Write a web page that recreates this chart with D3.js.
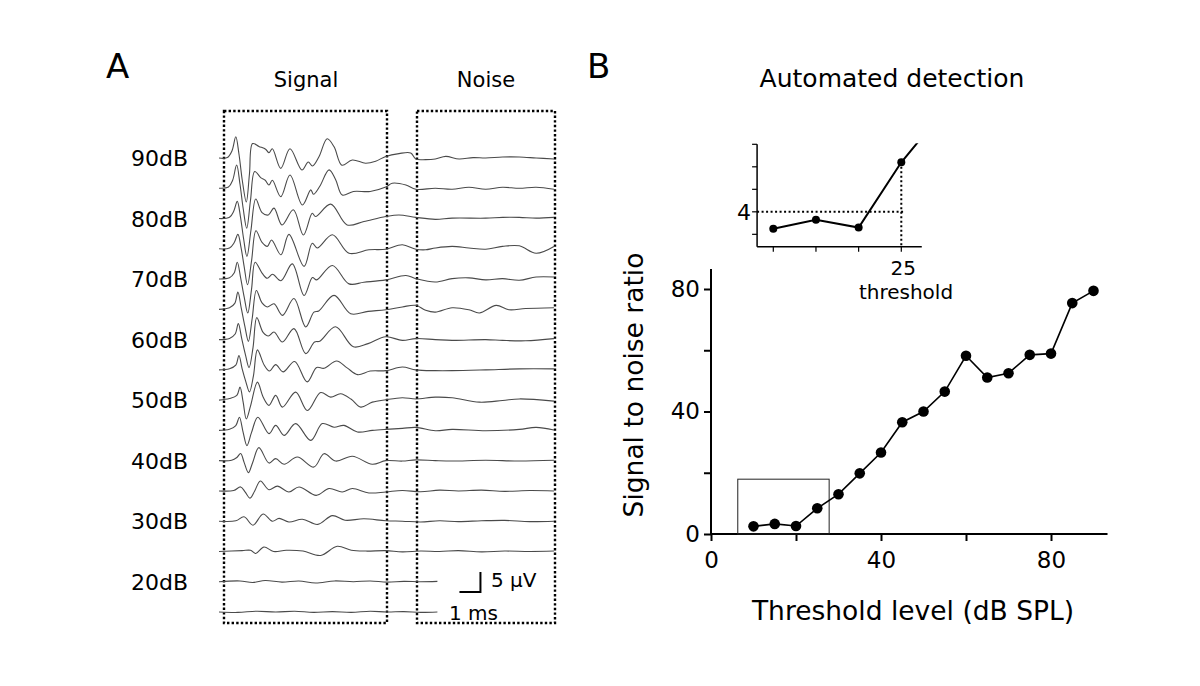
<!DOCTYPE html>
<html><head><meta charset="utf-8">
<script src="https://cdn.jsdelivr.net/npm/d3@7"></script>
<style>
html,body{margin:0;padding:0;background:#fff;}
svg{display:block;font-family:"DejaVu Sans",Verdana,sans-serif;}
</style></head>
<body>
<svg id="chart" width="1200" height="686"></svg>
<script>
// ---------- Panel A data: ABR traces, [time ms, amplitude µV] ----------
const traceLevels = [90,85,80,75,70,65,60,55,50,45,40,35,30,25,20,15];
const labelLevels = ["90dB","80dB","70dB","60dB","50dB","40dB","30dB","20dB"];
const wave90 = [[0,0],[0.4,0.1],[0.62,1.8],[0.8,5.3],[0.95,1],[1.12,-6],[1.3,-11],[1.45,-4],[1.6,3.6],[1.9,2.9],[2.22,2.2],[2.38,1.3],[2.54,2.3],[2.94,-2.6],[3.38,2.3],[3.95,-3],[4.25,-1],[4.45,-2],[4.76,0.3],[5.15,4.8],[5.48,2.8],[5.85,-1.8],[6.35,-0.5],[6.98,-1.3],[7.46,-0.8],[7.94,0.4],[8.57,1.1],[9.13,1.25],[9.37,-0.25],[9.84,-0.4],[10.3,-0.25],[10.8,0.4],[11.43,-0.25],[12.1,0.1],[12.7,0],[13.5,0.25],[14.3,0.25],[15.1,0],[15.95,-0.25]];
const wave85 = [[0,0],[0.45,0.3],[0.65,2],[0.84,5.8],[1.0,1],[1.15,-5],[1.32,-10],[1.5,-3],[1.7,4.2],[2.0,2.6],[2.2,2.0],[2.38,0.8],[2.54,2],[2.94,-2.1],[3.38,3.3],[3.97,-4.2],[4.37,-0.4],[4.5,-1.5],[4.8,0.5],[5.24,4.6],[5.55,2.2],[5.87,-1.7],[6.4,-0.8],[7.2,-0.8],[7.94,0.3],[8.25,1.25],[8.9,0.8],[9.37,-0.25],[10.3,0],[11.1,-0.25],[11.9,0.25],[12.7,-0.25],[13.5,0.25],[14.3,0],[15.1,0.25],[15.95,-0.25]];
const wave80 = [[0,0],[0.5,0.3],[0.7,1.8],[0.87,4.3],[1.02,0.5],[1.17,-5],[1.33,-9.5],[1.52,-3],[1.75,4.9],[2.05,1.5],[2.35,0.9],[2.62,2.6],[3.0,-1.6],[3.54,2.2],[4.02,-4.1],[4.44,1.3],[4.6,0.5],[5.32,3.6],[6.1,-1.6],[6.9,-0.75],[7.94,0.5],[8.57,0.9],[9.37,0.3],[10.3,-0.2],[11.1,0.1],[12.7,0.1],[13.5,0.3],[14.3,0.3],[15.1,0.1],[15.95,0.3]];
const wave75 = [[0,0],[0.5,0.2],[0.72,1.5],[0.9,3.6],[1.05,0.3],[1.2,-4.5],[1.36,-9],[1.55,-3],[1.76,4.5],[2.05,1.6],[2.3,0.6],[2.5,2.2],[2.95,-1.5],[3.33,3.6],[4.05,-4.4],[4.44,1.4],[4.68,0.2],[5.4,3.5],[6.19,-1.1],[7.14,-0.25],[7.94,-0.1],[8.73,1.0],[9.37,-0.1],[9.84,-0.25],[10.3,0.2],[11.1,0.6],[11.9,0.2],[12.7,-0.1],[13.5,0.6],[14.3,0.75],[15.1,-1.1],[15.95,0.6]];
const wave70 = [[0,0],[0.5,0.3],[0.72,1.5],[0.87,4.2],[1.03,0.3],[1.2,-4.5],[1.37,-8.5],[1.55,-2.5],[1.72,4.2],[2.05,1.5],[2.3,0.2],[2.55,1.2],[2.95,-0.4],[3.49,3.8],[4.05,-4.1],[4.45,0.4],[4.65,-0.2],[5.4,3.4],[6.19,-1.2],[6.9,-0.8],[7.94,-0.2],[8.9,0.9],[9.37,0.1],[10.3,-0.75],[11.1,0.1],[11.9,0.3],[12.7,-0.2],[13.5,0.1],[14.3,-0.3],[15.1,0.5],[15.95,0.5]];
const wave65 = [[0,0],[0.5,0.4],[0.75,1.5],[0.9,4.3],[1.06,0.3],[1.23,-4.2],[1.4,-8],[1.58,-2.3],[1.78,4.7],[2.05,1.6],[2.3,0.6],[2.62,1.4],[3.02,-1.5],[3.57,2.7],[4.13,-4.4],[4.52,-0.7],[4.75,-0.4],[5.48,3.5],[6.27,-1.1],[7.1,-0.5],[7.94,-0.1],[8.73,0.6],[9.37,1.0],[9.84,-0.25],[10.3,-0.7],[11.1,0.4],[11.9,-0.1],[12.4,-0.9],[13.2,1.0],[13.8,-0.1],[14.6,0.2],[15.95,0.4]];
const wave60 = [[0,0],[0.5,0.3],[0.77,1.4],[0.92,4.0],[1.08,0.3],[1.26,-3.8],[1.43,-7],[1.62,-2],[1.8,5.5],[2.1,1.8],[2.35,0.9],[2.62,1.9],[3.02,-0.6],[3.57,2.75],[4.13,-3.5],[4.55,-0.6],[4.8,-0.4],[5.55,3.2],[6.4,-1.8],[7.1,-1.0],[7.94,0.7],[8.73,-0.2],[9.37,0.25],[10.3,0],[11.1,-0.2],[12.7,0],[13.5,-0.2],[14.6,-0.3],[15.95,0.25]];
const wave55 = [[0,0],[0.5,0.3],[0.8,1.2],[0.95,3.6],[1.1,0.3],[1.28,-3],[1.45,-5.5],[1.64,-1.5],[1.83,5.0],[2.15,1.2],[2.4,-0.3],[2.7,1.3],[3.05,-0.5],[3.6,2.1],[4.2,-3.0],[4.65,0.6],[5.0,0.4],[5.6,2.2],[6.1,0.5],[6.6,-1.2],[7.2,-0.3],[7.94,-0.2],[8.73,0.7],[9.37,0],[10.3,-0.2],[11.1,-0.2],[12.7,0],[14.3,0.25],[15.95,0.25]];
const wave50 = [[0,0],[0.5,0.4],[0.85,1.2],[1.0,3.25],[1.15,-0.5],[1.3,-4.7],[1.5,-1.5],[1.83,4.5],[2.1,0.8],[2.38,-1.3],[2.7,1.2],[3.02,-1.75],[3.65,2.0],[4.21,-2.6],[4.84,1.9],[5.32,0.75],[5.79,1.6],[6.3,0.2],[6.75,-1.75],[7.3,-0.5],[7.94,0.1],[8.73,0.6],[9.37,0.3],[10.3,0.75],[11.1,0.6],[12.4,-0.5],[13.5,-0.1],[14.3,0.3],[15.95,-0.25]];
const wave45 = [[0,0],[0.5,0.3],[0.8,1.2],[0.97,3.3],[1.15,-0.5],[1.33,-3.8],[1.55,-0.5],[1.85,3.3],[2.38,-0.8],[2.7,1.25],[3.1,-1.25],[3.65,1.7],[4.37,-2.5],[4.92,1.7],[5.48,0.8],[5.95,1.25],[6.59,-0.4],[7.3,0],[7.94,0.25],[8.73,0.5],[9.37,0.75],[10.3,-0.1],[11.1,0.25],[12.7,-0.1],[14.3,0.25],[15.1,0.75],[15.95,0.1]];
const wave40 = [[0,0],[0.6,0.1],[0.85,0.8],[1.03,1.8],[1.2,-0.5],[1.4,-3],[1.6,-0.5],[1.9,3.25],[2.38,-0.6],[2.7,0.5],[3.1,-0.9],[3.73,0.9],[4.52,-1.6],[5.0,1.75],[5.56,-0.1],[6.35,1.1],[7.3,-0.9],[7.94,0],[8.73,-0.1],[9.37,0.2],[10.3,0],[11.1,-0.1],[12.7,0.1],[14.3,-0.1],[15.95,0.1]];
const wave35 = [[0,0],[0.7,0.1],[1.03,1],[1.25,-0.3],[1.48,-1.8],[1.7,0],[1.97,2.5],[2.38,0.3],[2.78,1.2],[3.33,-0.25],[3.81,1],[4.63,-1.1],[5.24,0.6],[5.87,-0.25],[6.35,0.6],[7.14,-0.5],[7.94,-0.25],[8.73,0.1],[9.6,-0.2],[10.5,0.2],[11.4,0],[12.5,0.2],[13.6,-0.1],[14.8,0.1],[15.95,0]];
const wave30 = [[0,0],[0.8,0.1],[1.19,1.1],[1.62,-1],[2.1,1.8],[2.54,0],[2.86,0.7],[3.33,-0.2],[3.97,0.5],[4.7,-0.8],[5.4,1.4],[6.0,0.25],[6.9,0.6],[7.94,0.1],[8.73,0],[9.6,-0.2],[10.5,0.1],[11.4,-0.1],[12.5,0.1],[13.6,0.2],[14.8,-0.1],[15.95,0]];
const wave25 = [[0,0],[1.1,0.2],[1.5,0.3],[1.75,-0.5],[2.14,1.1],[2.6,0],[3.2,0.3],[4.0,0.1],[4.84,-1.0],[5.63,1.3],[6.3,0.3],[7.0,0.1],[7.94,0.2],[8.73,-0.1],[9.6,0.1],[10.5,0],[11.4,0.2],[12.5,-0.1],[13.6,0.1],[14.8,0],[15.95,0.1]];
const wave20 = [[0,0],[1.0,0.2],[1.6,-0.2],[2.2,0.3],[3.0,-0.1],[3.8,0.2],[4.6,-0.3],[5.5,0.2],[6.4,0],[7.2,0.2],[8.0,-0.1],[8.8,0.1],[9.6,0],[10.4,0.1]];
const wave15 = [[0,0],[0.9,-0.1],[1.8,0.2],[2.7,0],[3.6,0.2],[4.5,-0.1],[5.4,0.1],[6.3,-0.1],[7.2,0.2],[8.0,0],[8.8,0.1],[9.6,-0.1],[10.4,0]];
const waves = [wave90,wave85,wave80,wave75,wave70,wave65,wave60,wave55,wave50,wave45,wave40,wave35,wave30,wave25,wave20,wave15];

// ---------- Panel B data ----------
const snrLevels = [10,15,20,25,30,35,40,45,50,55,60,65,70,75,80,85,90];
const snrValues = [2.5,3.3,2.6,8.4,13.0,19.8,26.6,36.5,40.0,46.5,58.2,51.1,52.5,58.5,58.9,75.4,79.4];
const mainTicks = [0,20,40,60,80];
const mainTickLabels = [0,40,80];
const insetXTicks = [10,15,20,25];
const insetYTicks = [2,4,6,8,10];
const insetThresholdLevel = 25;
const insetCriterion = 4;
const zoomBox = {x0:6.3, x1:27.8, y1:17.9};

const svg = d3.select("#chart");
const FONT = '"DejaVu Sans",Verdana,sans-serif';

// ===== Panel A =====
svg.append("text").attr("x",106).attr("y",78).attr("font-size",34).text("A");
const tScale = d3.scaleLinear().domain([0,16]).range([219,555]);
const amp = d3.scaleLinear().domain([0,5]).range([0,-20]);
const baseY = d3.scalePoint().domain(traceLevels).range([158,612]);

// dotted boxes
const boxes = [{x0:224,x1:387},{x0:417,x1:555}];
svg.selectAll("rect.box").data(boxes).enter().append("rect")
  .attr("x",d=>d.x0).attr("y",111).attr("width",d=>d.x1-d.x0).attr("height",512)
  .attr("fill","none").attr("stroke","#000").attr("stroke-width",2.4).attr("stroke-dasharray","2.4,2.2");
svg.append("text").attr("x",306).attr("y",87).attr("text-anchor","middle").attr("font-size",21).text("Signal");
svg.append("text").attr("x",486).attr("y",87).attr("text-anchor","middle").attr("font-size",21).text("Noise");

const line = d3.line().curve(d3.curveCatmullRom.alpha(0.5));
svg.append("g").selectAll("path").data(waves).enter().append("path")
  .attr("d",(w,i)=> line(w.map(p=>[tScale(p[0]), baseY(traceLevels[i]) + amp(p[1])])))
  .attr("fill","none").attr("stroke","#4a4a4a").attr("stroke-width",1.1);

svg.append("g").selectAll("text").data(labelLevels).enter().append("text")
  .attr("x",188).attr("y",d=>baseY(parseInt(d))+8).attr("text-anchor","end").attr("font-size",22).text(d=>d);

// scale bar
const sbX = tScale(12.45), sbY = 592;
svg.append("path").attr("d",`M${sbX - (tScale(1)-tScale(0))},${sbY}H${sbX}V${sbY+amp(5)}`)
  .attr("fill","none").attr("stroke","#000").attr("stroke-width",2);
svg.append("text").attr("x",491).attr("y",587).attr("font-size",20).text("5 µV");
svg.append("text").attr("x",449).attr("y",620).attr("font-size",20).text("1 ms");

// ===== Panel B =====
svg.append("text").attr("x",587).attr("y",78).attr("font-size",34).text("B");
svg.append("text").attr("x",892).attr("y",87).attr("text-anchor","middle").attr("font-size",25).text("Automated detection");

const x = d3.scaleLinear().domain([0,80]).range([711,1051]);
const y = d3.scaleLinear().domain([0,80]).range([534,289]);
const gx = svg.append("g").attr("transform","translate(0,534)")
  .call(d3.axisBottom(x).tickValues(mainTicks).tickSize(7).tickPadding(11).tickFormat(d=>mainTickLabels.includes(d)?d:""));
const gy = svg.append("g").attr("transform","translate(711,0)")
  .call(d3.axisLeft(y).tickValues(mainTicks).tickSize(7).tickPadding(4).tickFormat(d=>mainTickLabels.includes(d)?d:""));
[gx,gy].forEach(g=>{
  g.select(".domain").remove();
  g.selectAll("line").attr("stroke","#000").attr("stroke-width",2);
  g.selectAll("text").attr("font-size",23).attr("font-family",FONT).attr("fill","#000");
});
svg.append("line").attr("x1",x(0)-1).attr("x2",x(93.3)).attr("y1",534).attr("y2",534).attr("stroke","#000").attr("stroke-width",2);
svg.append("line").attr("x1",711).attr("x2",711).attr("y1",y(0)+1).attr("y2",y(86.5)).attr("stroke","#000").attr("stroke-width",2);

svg.append("rect").attr("x",x(zoomBox.x0)).attr("y",y(zoomBox.y1))
  .attr("width",x(zoomBox.x1)-x(zoomBox.x0)).attr("height",y(0)-y(zoomBox.y1))
  .attr("fill","none").attr("stroke","#222").attr("stroke-width",1);

const snr = snrLevels.map((l,i)=>[l,snrValues[i]]);
svg.append("path").attr("d",d3.line().x(d=>x(d[0])).y(d=>y(d[1]))(snr))
  .attr("fill","none").attr("stroke","#000").attr("stroke-width",1.6);
svg.append("g").selectAll("circle").data(snr).enter().append("circle")
  .attr("cx",d=>x(d[0])).attr("cy",d=>y(d[1])).attr("r",5.3).attr("fill","#000");

svg.append("text").attr("transform","translate(643,385) rotate(-90)").attr("text-anchor","middle")
  .attr("font-size",26.5).text("Signal to noise ratio");
svg.append("text").attr("x",913).attr("y",620).attr("text-anchor","middle").attr("font-size",26.5).text("Threshold level (dB SPL)");

// ===== Inset =====
const ix = d3.scaleLinear().domain([10,25]).range([773.3,901.3]);
const iy = d3.scaleLinear().domain([0.9,10]).range([246.7,144.3]);
const ixMin = 8.1, ixMax = 27.4;
svg.append("defs").append("clipPath").attr("id","insetClip").append("rect")
  .attr("x",ix(ixMin)).attr("y",iy(10)-1).attr("width",ix(ixMax)-ix(ixMin)).attr("height",iy(0.9)-iy(10)+1);
svg.append("line").attr("x1",ix(ixMin)).attr("x2",ix(ixMax)).attr("y1",iy(0.9)).attr("y2",iy(0.9)).attr("stroke","#000").attr("stroke-width",1.5);
svg.append("line").attr("x1",ix(ixMin)).attr("x2",ix(ixMin)).attr("y1",iy(0.9)).attr("y2",iy(10)).attr("stroke","#000").attr("stroke-width",1.5);
svg.append("g").selectAll("line").data(insetXTicks).enter().append("line")
  .attr("x1",d=>ix(d)).attr("x2",d=>ix(d)).attr("y1",iy(0.9)).attr("y2",iy(0.9)+5).attr("stroke","#000").attr("stroke-width",1.2);
svg.append("g").selectAll("line").data(insetYTicks).enter().append("line")
  .attr("x1",ix(ixMin)-5).attr("x2",ix(ixMin)).attr("y1",d=>iy(d)).attr("y2",d=>iy(d)).attr("stroke","#000").attr("stroke-width",1.2);
svg.append("line").attr("x1",ix(ixMin)).attr("x2",ix(insetThresholdLevel)+2).attr("y1",iy(insetCriterion)).attr("y2",iy(insetCriterion))
  .attr("stroke","#000").attr("stroke-width",2).attr("stroke-dasharray","2,2.5");
svg.append("line").attr("x1",ix(insetThresholdLevel)).attr("x2",ix(insetThresholdLevel)).attr("y1",iy(snrValues[3])).attr("y2",iy(0.9))
  .attr("stroke","#000").attr("stroke-width",2).attr("stroke-dasharray","2,2.5");
const insetData = snr.filter(d=>d[0]<=30);
svg.append("path").attr("clip-path","url(#insetClip)")
  .attr("d",d3.line().x(d=>ix(d[0])).y(d=>iy(d[1]))(insetData))
  .attr("fill","none").attr("stroke","#000").attr("stroke-width",2);
svg.append("g").selectAll("circle").data(insetData.filter(d=>d[0]<=25)).enter().append("circle")
  .attr("cx",d=>ix(d[0])).attr("cy",d=>iy(d[1])).attr("r",4).attr("fill","#000");
svg.append("text").attr("x",ix(ixMin)-6).attr("y",iy(insetCriterion)+8).attr("text-anchor","end").attr("font-size",22).text(insetCriterion);
svg.append("text").attr("x",ix(insetThresholdLevel)+2).attr("y",275).attr("text-anchor","middle").attr("font-size",20).text(insetThresholdLevel);
svg.append("text").attr("x",906).attr("y",299).attr("text-anchor","middle").attr("font-size",20).text("threshold");
</script>
</body></html>
